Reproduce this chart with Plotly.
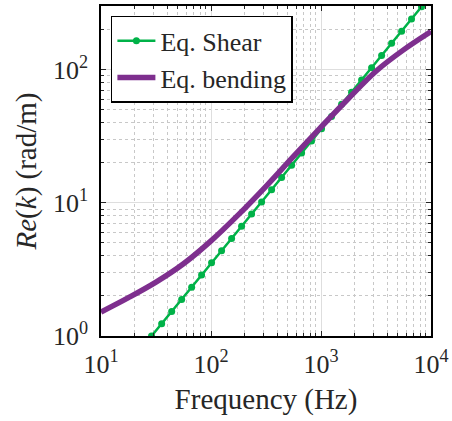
import plotly.graph_objects as go

# ---- data ----
shear_freq = [28.8, 35.6, 43.9, 54.1, 66.7, 82.1, 101.2, 124.8, 153.9, 189.7,
              233.9, 288.4, 355.6, 438.5, 540.6, 666.3, 820.4, 1011.6, 1247.4,
              1538.2, 1896.8, 2338.8, 2884.0, 3556.0, 4385.3, 5407.5, 6653.0, 8204.0]
shear_k = [1.00, 1.235, 1.525, 1.883, 2.325, 2.872, 3.546, 4.379, 5.408, 6.676,
           8.247, 10.18, 12.58, 15.53, 19.18, 23.68, 29.24, 36.12, 44.61,
           55.07, 68.00, 84.00, 103.7, 128.1, 158.2, 195.3, 241.2, 297.9]

bend_freq = [10, 17.78, 31.62, 56.23, 100, 177.8, 316.2, 562.3, 1000, 1778, 3162, 5623, 10000]
bend_k = [1.514, 1.941, 2.541, 3.491, 5.188, 8.166, 13.34, 22.39, 37.15, 60.95, 97.72, 141.3, 194.1]

x_tickvals = [10, 100, 1000, 10000]
x_ticktext = ["10<sup>1</sup>", "10<sup>2</sup>", "10<sup>3</sup>", "10<sup>4</sup>"]
y_tickvals = [1, 10, 100]
y_ticktext = ["10<sup>0</sup>", "10<sup>1</sup>", "10<sup>2</sup>"]

FONT = "Liberation Serif"
GREEN = "rgb(0,178,72)"
PURPLE = "rgb(126,47,142)"
TXT = "#262626"

fig = go.Figure()
fig.add_trace(go.Scatter(
    x=shear_freq, y=shear_k, mode="lines+markers", name="Eq. Shear",
    line=dict(color=GREEN, width=2.5),
    marker=dict(color=GREEN, size=7, symbol="circle"),
))
fig.add_trace(go.Scatter(
    x=bend_freq, y=bend_k, mode="lines", name="Eq. bending",
    line=dict(color=PURPLE, width=5.5, shape="spline", smoothing=1.0),
))

axis_common = dict(
    type="log", automargin=False,
    showline=True, linecolor="black", linewidth=1.5, mirror="allticks",
    ticks="inside", ticklen=5, tickwidth=1, tickcolor=TXT,
    showgrid=True, gridcolor="#dedede", gridwidth=1,
    zeroline=False,
    tickfont=dict(family=FONT, size=26, color=TXT),
    minor=dict(ticks="inside", ticklen=3, tickcolor=TXT, dtick="D1",
               showgrid=True, gridcolor="#c8c8c8", griddash="dot", gridwidth=1),
)

fig.update_layout(
    width=452, height=421,
    margin=dict(l=101, r=21, t=6, b=85),
    paper_bgcolor="white", plot_bgcolor="white",
    font=dict(family=FONT, size=26, color=TXT),
    showlegend=True,
    legend=dict(
        x=0.03, y=0.97, xanchor="left", yanchor="top",
        bgcolor="white", bordercolor="black", borderwidth=1.5,
        font=dict(family=FONT, size=26, color=TXT),
        tracegroupgap=0, itemwidth=38,
    ),
)
fig.update_xaxes(
    **axis_common,
    range=[1, 4],
    tickmode="array", tickvals=x_tickvals, ticktext=x_ticktext,
    ticklabelstandoff=4,
    title=dict(text="Frequency (Hz)", font=dict(family=FONT, size=29, color=TXT), standoff=11),
)
fig.update_yaxes(
    **axis_common,
    range=[0, 2.48],
    tickmode="array", tickvals=y_tickvals, ticktext=y_ticktext,
    ticklabelstandoff=6,
    title=dict(text="<i>Re</i>(<i>k</i>) (rad/m)", font=dict(family=FONT, size=29, color=TXT), standoff=8),
)

fig.write_html("out.html", config={"displayModeBar": False},
               post_script="document.body.style.margin='0';")
